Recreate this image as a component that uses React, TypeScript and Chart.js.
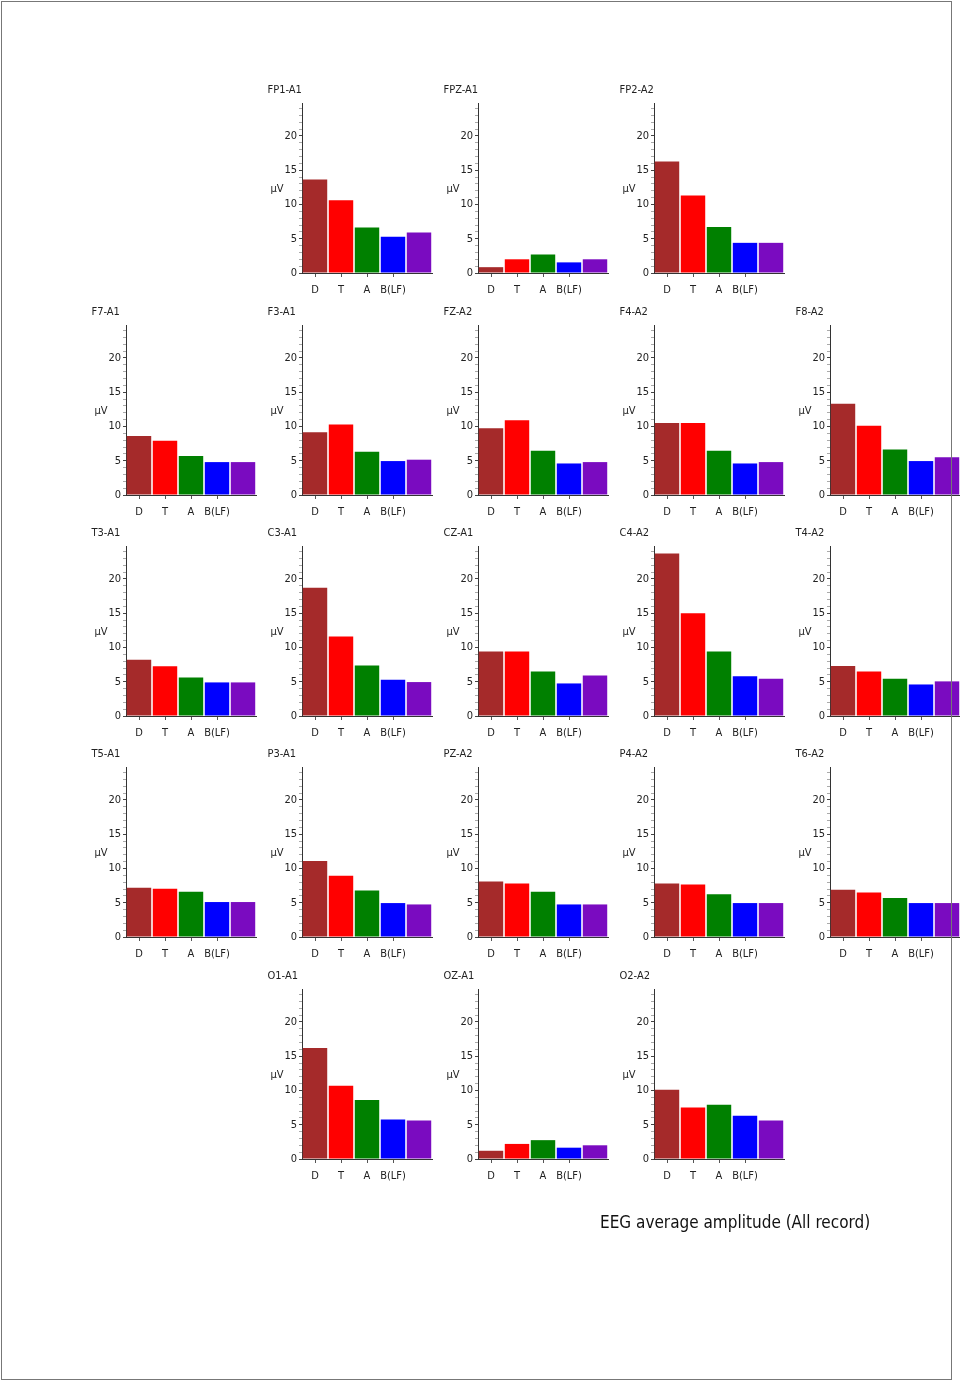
import React, { useEffect, useRef } from 'react';
import { Chart, registerables } from 'chart.js';

Chart.register(...registerables);

// ---- Data ----
const channels = [
  'FP1-A1', 'FPZ-A1', 'FP2-A2',
  'F7-A1', 'F3-A1', 'FZ-A2', 'F4-A2', 'F8-A2',
  'T3-A1', 'C3-A1', 'CZ-A1', 'C4-A2', 'T4-A2',
  'T5-A1', 'P3-A1', 'PZ-A2', 'P4-A2', 'T6-A2',
  'O1-A1', 'OZ-A1', 'O2-A2',
];
const bandLabels = ['D', 'T', 'A', 'B(LF)', ''];
const deltaValues = [13.65, 0.85, 16.25, 8.6, 9.15, 9.75, 10.5, 13.3, 8.2, 18.7, 9.4, 23.7, 7.3, 7.2, 11.1, 8.1, 7.8, 6.9, 16.2, 1.2, 10.1];
const thetaValues = [10.6, 2.0, 11.3, 7.9, 10.3, 10.9, 10.5, 10.1, 7.25, 11.6, 9.4, 15.0, 6.5, 7.05, 8.95, 7.8, 7.65, 6.5, 10.7, 2.2, 7.5];
const alphaValues = [6.65, 2.7, 6.7, 5.7, 6.3, 6.45, 6.45, 6.65, 5.6, 7.35, 6.5, 9.4, 5.45, 6.6, 6.8, 6.6, 6.25, 5.7, 8.6, 2.75, 7.9];
const betaLFValues = [5.3, 1.55, 4.4, 4.8, 4.95, 4.6, 4.6, 4.95, 4.9, 5.3, 4.75, 5.8, 4.6, 5.1, 4.95, 4.75, 4.95, 4.95, 5.75, 1.65, 6.3];
const betaHFValues = [5.9, 2.0, 4.4, 4.8, 5.15, 4.8, 4.8, 5.5, 4.9, 4.95, 5.9, 5.45, 5.05, 5.1, 4.75, 4.75, 4.95, 4.95, 5.6, 2.0, 5.6];
const yMajorTicks = [0, 5, 10, 15, 20];
const yMax = 24.8;
const unitLabel = 'µV';
const footerText = 'EEG average amplitude (All record)';

// ---- Layout / style ----
const bandColors = ['#A52A2A', '#FF0000', '#008000', '#0000FF', '#7A0BC0'];
const gridLayout: (string | null)[][] = [
  [null, 'FP1-A1', 'FPZ-A1', 'FP2-A2', null],
  ['F7-A1', 'F3-A1', 'FZ-A2', 'F4-A2', 'F8-A2'],
  ['T3-A1', 'C3-A1', 'CZ-A1', 'C4-A2', 'T4-A2'],
  ['T5-A1', 'P3-A1', 'PZ-A2', 'P4-A2', 'T6-A2'],
  [null, 'O1-A1', 'OZ-A1', 'O2-A2', null],
];
const FONT = '"Liberation Sans Narrow", "DejaVu Sans Condensed", sans-serif';
const CW = 176;
const CH = 221;

function Panel({ name, left, top }: { name: string; left: number; top: number }) {
  const ref = useRef<HTMLCanvasElement>(null);
  useEffect(() => {
    const i = channels.indexOf(name);
    const values = [deltaValues[i], thetaValues[i], alphaValues[i], betaLFValues[i], betaHFValues[i]];
    const textPlugin = {
      id: 'panelText',
      afterDraw(chart: any) {
        const { ctx, chartArea } = chart;
        ctx.save();
        ctx.fillStyle = '#222';
        ctx.font = `11px ${FONT}`;
        ctx.textAlign = 'left';
        ctx.textBaseline = 'middle';
        ctx.fillText(name, chartArea.left - 34.5, chartArea.bottom - 182.5);
        ctx.fillText(unitLabel, chartArea.left - 31.5, (chartArea.top + chartArea.bottom) / 2 + 1);
        ctx.restore();
      },
    };
    const chart = new Chart(ref.current as HTMLCanvasElement, {
      type: 'bar',
      data: {
        labels: bandLabels,
        datasets: [
          {
            data: values,
            backgroundColor: bandColors,
            borderWidth: 0,
            barPercentage: 0.94,
            categoryPercentage: 1,
          },
        ],
      },
      options: {
        animation: false,
        responsive: false,
        devicePixelRatio: 1,
        layout: { padding: { left: 0, right: 6, top: 20, bottom: 0 } },
        plugins: {
          legend: { display: false },
          tooltip: { enabled: false },
          title: { display: false },
        },
        scales: {
          x: {
            type: 'category',
            offset: true,
            grid: {
              display: true,
              drawOnChartArea: false,
              drawTicks: true,
              tickLength: 4,
              offset: false,
              tickColor: (c: any) => (c.index === 4 ? 'rgba(0,0,0,0)' : '#555'),
            },
            border: { display: true, color: '#333', width: 1 },
            ticks: {
              font: { size: 11, family: FONT },
              color: '#222',
              padding: 7,
              maxRotation: 0,
              autoSkip: false,
            },
            afterFit: (s: any) => {
              s.height = 31;
            },
          },
          y: {
            min: 0,
            max: yMax,
            grid: {
              drawOnChartArea: false,
              drawTicks: true,
              tickLength: 3,
              tickColor: (c: any) =>
                c.tick && yMajorTicks.includes(c.tick.value) ? '#444' : '#aaa',
            },
            border: { display: true, color: '#333', width: 1 },
            ticks: {
              stepSize: 1,
              autoSkip: false,
              includeBounds: false,
              padding: 2,
              font: { size: 11, family: FONT },
              color: '#222',
              callback: (v: any) => (yMajorTicks.includes(Number(v)) ? String(v) : ''),
            },
            afterFit: (s: any) => {
              s.width = 40;
            },
          },
        },
      } as any,
      plugins: [textPlugin],
    });
    return () => chart.destroy();
  }, [name]);
  return (
    <canvas
      ref={ref}
      width={CW}
      height={CH}
      style={{ position: 'absolute', left, top, width: CW, height: CH, display: 'block' }}
    />
  );
}

export default function App() {
  const panels: React.ReactNode[] = [];
  gridLayout.forEach((row, r) => {
    row.forEach((name, c) => {
      if (!name) return;
      const axisX = 125.7 + c * 176;
      const zeroY = 273.3 + r * 221.3;
      panels.push(
        <Panel key={name} name={name} left={Math.round(axisX - 40)} top={Math.round(zeroY - 190)} />
      );
    });
  });
  return (
    <div
      style={{
        position: 'absolute',
        left: 0,
        top: 0,
        width: 960,
        height: 1383,
        overflow: 'hidden',
        background: '#fff',
      }}
    >
      {panels}
      <div
        style={{
          position: 'absolute',
          left: 1,
          top: 1,
          width: 951,
          height: 1379,
          border: '1px solid #777',
          boxSizing: 'border-box',
          pointerEvents: 'none',
        }}
      />
      <div
        style={{
          position: 'absolute',
          left: 600,
          top: 1211,
          fontFamily: '"DejaVu Sans Condensed", "DejaVu Sans", sans-serif',
          fontSize: 17,
          lineHeight: '22px',
          color: '#111',
          whiteSpace: 'nowrap',
        }}
      >
        {footerText}
      </div>
    </div>
  );
}
